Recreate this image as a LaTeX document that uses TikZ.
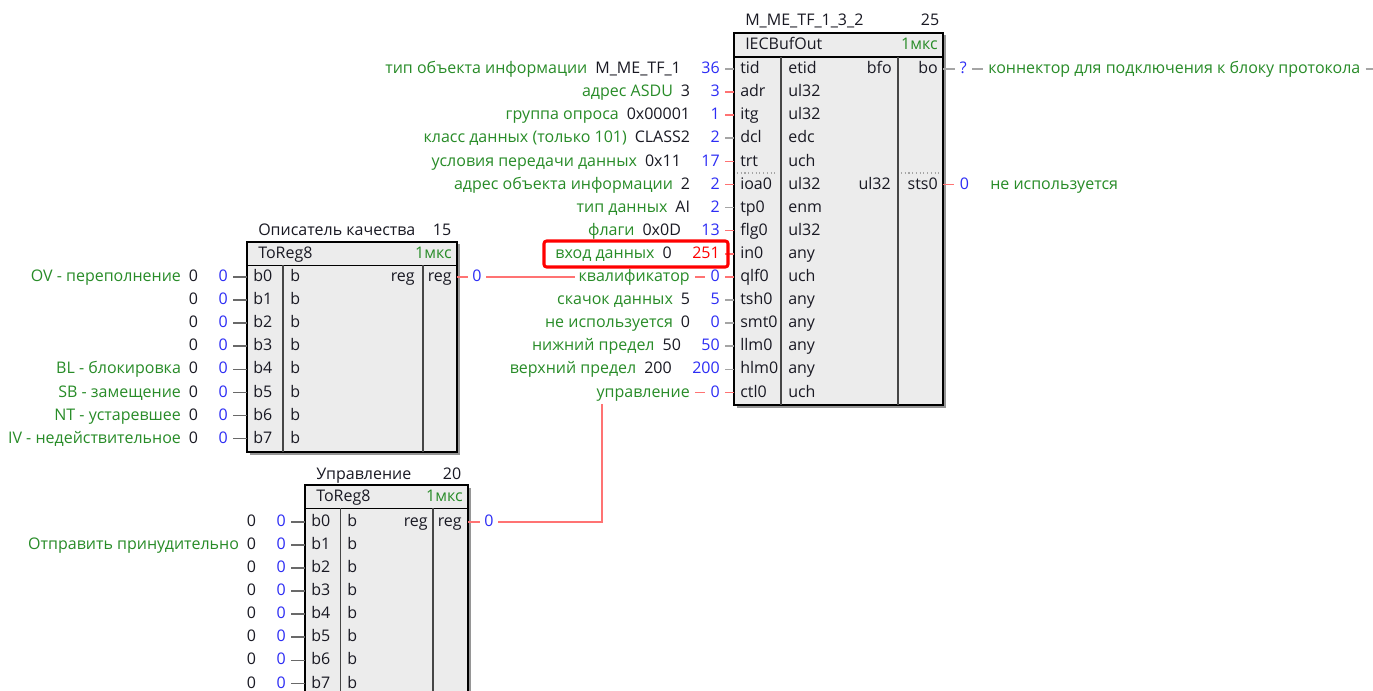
\documentclass[tikz,border=0pt]{standalone}
\usepackage{fontspec}
\setmainfont{Open Sans}
\definecolor{lgreen}{RGB}{40,140,40}
\definecolor{vblue}{RGB}{45,45,245}
\definecolor{sred}{RGB}{255,115,115}
\definecolor{sgrey}{RGB}{165,165,165}
\definecolor{dgrey}{RGB}{105,105,105}
\definecolor{bfill}{RGB}{236,236,236}
\definecolor{tdark}{RGB}{25,25,35}
\definecolor{colline}{RGB}{70,70,70}
\definecolor{shadowc}{RGB}{150,150,150}
\newcommand\fs{\fontsize{12}{14}\selectfont}
\tikzset{
  t/.style={inner sep=0pt, text=tdark, text height=9pt, text depth=2pt},
  pin/.style={t, anchor=west},
  pine/.style={t, anchor=east},
  bval/.style={t, inner xsep=3.75pt, text=vblue, anchor=east},
  desc/.style={t, anchor=east},
  gst/.style={draw=sgrey, line width=1.2pt},
  dst/.style={draw=dgrey, line width=1.2pt},
  rst/.style={draw=sred, line width=1.2pt},
  frame/.style={draw=black, line width=1.6pt, fill=bfill},
  colsep/.style={draw=colline, line width=1.1pt},
  hdrsep/.style={draw=black, line width=1.2pt},
  shade/.style={fill=shadowc},
  hl/.style={draw=red, line width=2.3pt, rounded corners=2pt},
}
% main block input row
\newcommand\mrow[8]{%
  \coordinate (#1) at (734,#2);
  \node[pin] (#1p) at (740,#2) {#3};
  \node[pin] (#1t) at (788,#2) {#4};
  \node[bval] (#1v) at (725,#2) {#7};
  \node[desc] (#1d) at ([xshift=-11.25pt]#1v.west) {\textcolor{lgreen}{#5}\hspace{6pt}#6};
  \draw[#8] (#1v) -- (#1);
}
% ToReg8 input row: name, y, block left x, pin, descr
\newcommand\rrow[5]{%
  \coordinate (#1) at (#3,#2);
  \node[pin] (#1p) at ([xshift=4.5pt]#1) {#4};
  \node[bval] (#1v) at ([xshift=-10.5pt]#1) {0};
  \node[desc] (#1d) at ([xshift=-11.25pt]#1v.west) {\textcolor{lgreen}{#5}\hspace{6pt}0};
  \draw[dst] (#1v) -- (#1);
}
\begin{document}
\begin{tikzpicture}[x=0.75pt,y=-0.75pt,font=\fs]
\useasboundingbox (0,0) rectangle (1373,691);
\clip (0,0) rectangle (1373,691);
\fill[white] (0,0) rectangle (1373,691);

% ---------------- main block IECBufOut ----------------
\fill[shade] (736.5,35.5) rectangle (946,407.5);
\draw[frame] (734,33) rectangle (943,405);
\draw[hdrsep] (734,57) -- (943,57);
\draw[colsep] (781,57) -- (781,405);
\draw[colsep] (898,57) -- (898,405);
\draw[sgrey, dotted, line width=0.8pt] (737,173) -- (778,173);
\draw[sgrey, dotted, line width=0.8pt] (901,173) -- (940,173);
\node[pin] (mtitle) at (745,21) {M\_ME\_TF\_1\_3\_2};
\node[t] (mnum) at (930,21) {25};
\node[pin] (mtype) at (745,45) {IECBufOut};
\node[pine, text=lgreen] (mtime) at (938,45) {1мкс};

\mrow{tid}{69}{tid}{etid}{тип объекта информации}{M\_ME\_TF\_1}{36}{gst}
\mrow{adr}{92.1}{adr}{ul32}{адрес ASDU}{3}{3}{rst}
\mrow{itg}{115.2}{itg}{ul32}{группа опроса}{0x00001}{1}{rst}
\mrow{dcl}{138.3}{dcl}{edc}{класс данных (только 101)}{CLASS2}{2}{gst}
\mrow{trt}{161.4}{trt}{uch}{условия передачи данных}{0x11}{17}{rst}
\mrow{ioa}{184.5}{ioa0}{ul32}{адрес объекта информации}{2}{2}{rst}
\mrow{tp}{207.6}{tp0}{enm}{тип данных}{AI}{2}{gst}
\mrow{flg}{230.7}{flg0}{ul32}{флаги}{0x0D}{13}{rst}
\mrow{in}{253.8}{in0}{any}{вход данных}{0}{\textcolor{red}{251}}{rst}
\mrow{tsh}{300}{tsh0}{any}{скачок данных}{5}{5}{gst}
\mrow{smt}{323.1}{smt0}{any}{не используется}{0}{0}{gst}
\mrow{llm}{346.2}{llm0}{any}{нижний предел}{50}{50}{gst}
\mrow{hlm}{369.3}{hlm0}{any}{верхний предел}{200}{200}{gst}

% qlf0 (linked)
\coordinate (qlf) at (734,276.9);
\node[pin] (qlfp) at (740,276.9) {qlf0};
\node[pin] (qlft) at (788,276.9) {uch};
\node[bval] (qlfv) at (725,276.9) {0};
\node[desc, text=lgreen] (qlfd) at (690,276.9) {квалификатор};
\draw[rst] (qlfv) -- (qlf);
\draw[rst, shorten <=3.75pt] (qlfd) -- (qlfv);
% ctl0 (linked)
\coordinate (ctl) at (734,392.4);
\node[pin] (ctlp) at (740,392.4) {ctl0};
\node[pin] (ctlt) at (788,392.4) {uch};
\node[bval] (ctlv) at (725,392.4) {0};
\node[desc, text=lgreen] (ctld) at (690,392.4) {управление};
\draw[rst] (ctlv) -- (ctl);
\draw[rst, shorten <=3.75pt] (ctld) -- (ctlv);

% highlight of in0
\draw[hl] (544,241) rectangle (728,267);

% right column
\node[pine] (bfo) at (892,69) {bfo};
\node[pine] (bop) at (938,69) {bo};
\node[pine] (stsT) at (891,184.5) {ul32};
\node[pine] (stsp) at (938,184.5) {sts0};

% outputs
\coordinate (bo) at (943,69);
\node[t, inner xsep=3.75pt, text=vblue] (bov) at (963.3,69) {?};
\node[t, inner xsep=3.75pt, anchor=west, text=lgreen] (bod) at (983,69) {коннектор для подключения к блоку протокола};
\coordinate (boend) at (1373,69);
\draw[gst] (bo) -- (bov);
\draw[gst] (bov) -- (bod);
\draw[gst] (bod) -- (boend);

\coordinate (sts) at (943,184.5);
\node[t, inner xsep=4.5pt, text=vblue] (stsv) at (964.5,184.5) {0};
\node[t, anchor=west, text=lgreen] (stsd) at (990,184.5) {не используется};
\draw[rst] (sts) -- (stsv);

% ---------------- block: Описатель качества ----------------
\fill[shade] (249.5,244.5) rectangle (459.5,454.5);
\draw[frame] (247,242) rectangle (457,452);
\draw[hdrsep] (247,265.5) -- (457,265.5);
\draw[colsep] (283,265.5) -- (283,452);
\draw[colsep] (423,265.5) -- (423,452);
\node[pin] (q1title) at (258,231) {Описатель качества};
\node[t] (q1num) at (442,231) {15};
\node[pin] (q1type) at (258,253.8) {ToReg8};
\node[pine, text=lgreen] (q1time) at (452,253.8) {1мкс};
\rrow{qa0}{276.9}{247}{b0}{OV - переполнение}
\rrow{qa1}{300}{247}{b1}{}
\rrow{qa2}{323.1}{247}{b2}{}
\rrow{qa3}{346.2}{247}{b3}{}
\rrow{qa4}{369.3}{247}{b4}{BL - блокировка}
\rrow{qa5}{392.4}{247}{b5}{SB - замещение}
\rrow{qa6}{415.5}{247}{b6}{NT - устаревшее}
\rrow{qa7}{438.6}{247}{b7}{IV - недействительное}
\foreach \yy in {276.9,300,323.1,346.2,369.3,392.4,415.5,438.6}
  \node[pin] at (290,\yy) {b};
\node[pine] (q1reg) at (415,276.9) {reg};
\node[pine] (q1out) at (452,276.9) {reg};
\coordinate (r1o) at (457,276.9);
\node[t, inner xsep=3.4pt, text=vblue] (r1v) at (477,276.9) {0};
\draw[rst] (r1o) -- (r1v);
\draw[rst, shorten >=2.25pt] (r1v) -- (qlfd);

% ---------------- block: Управление ----------------
\fill[shade] (307.5,487.5) rectangle (470.5,700);
\draw[frame] (305,485) rectangle (468,700);
\draw[hdrsep] (305,508.3) -- (468,508.3);
\draw[colsep] (340.7,508.3) -- (340.7,700);
\draw[colsep] (433,508.3) -- (433,700);
\node[pin] (q2title) at (316,475) {Управление};
\node[t] (q2num) at (452,475) {20};
\node[pin] (q2type) at (316,496.7) {ToReg8};
\node[pine, text=lgreen] (q2time) at (463,496.7) {1мкс};
\rrow{ua0}{521.7}{305}{b0}{}
\rrow{ua1}{544.8}{305}{b1}{Отправить принудительно}
\rrow{ua2}{567.9}{305}{b2}{}
\rrow{ua3}{591}{305}{b3}{}
\rrow{ua4}{614.1}{305}{b4}{}
\rrow{ua5}{637.2}{305}{b5}{}
\rrow{ua6}{660.3}{305}{b6}{}
\rrow{ua7}{683.4}{305}{b7}{}
\foreach \yy in {521.7,544.8,567.9,591,614.1,637.2,660.3,683.4}
  \node[pin] at (347,\yy) {b};
\node[pine] (q2reg) at (428,521.7) {reg};
\node[pine] (q2out) at (462,521.7) {reg};
\coordinate (r2o) at (468,521.7);
\node[t, inner xsep=3.4pt, text=vblue] (r2v) at (489,521.7) {0};
\coordinate (ctlw) at (602,404);
\draw[rst] (r2o) -- (r2v);
\draw[rst] (r2v) -| (ctlw);
\end{tikzpicture}
\end{document}
